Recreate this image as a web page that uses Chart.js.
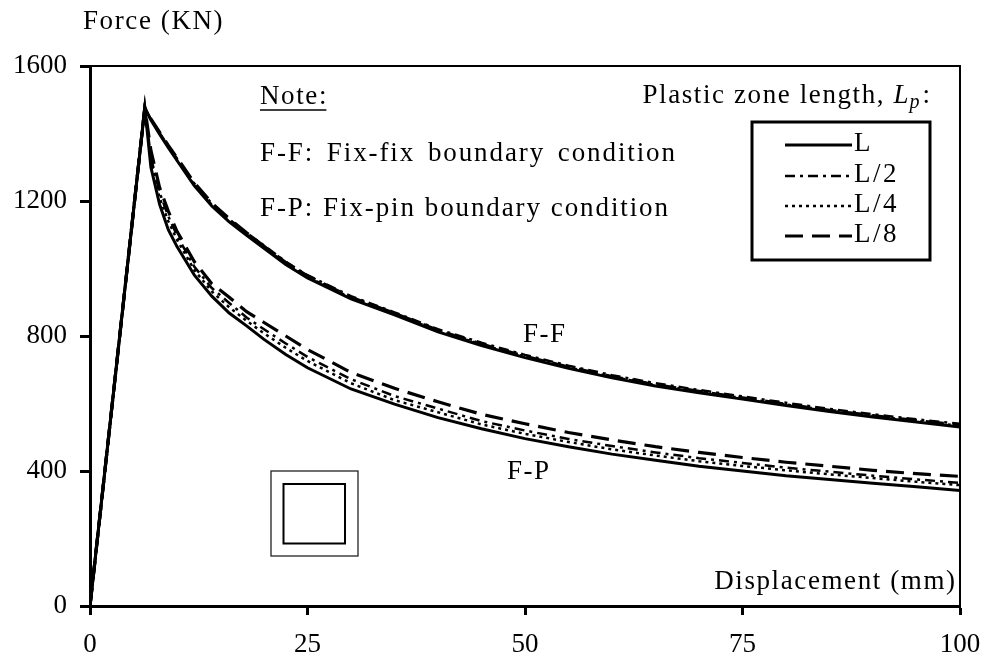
<!DOCTYPE html>
<html><head><meta charset="utf-8">
<script src="https://cdn.jsdelivr.net/npm/chart.js@4/dist/chart.umd.min.js"></script>
<style>html,body{margin:0;padding:0;background:#fff}#wrap{width:985px;height:666px}</style>
</head><body><div id="wrap"><canvas id="c" width="985" height="666"></canvas></div>
<script>
// ---- data ----
const displacement = [0, 6.3, 7, 8, 9, 10, 12, 14, 16, 18, 20, 22.5, 25, 30, 35, 40, 45, 50, 55, 60, 65, 70, 75, 80, 85, 90, 95, 100];
const ffL  = [0,1476,1440,1398,1358,1320,1245,1185,1138,1098,1060,1012,972,910,863,812,772,736,704,676,652,632,613,594,576,560,545,530];
const ffL2 = [0,1476,1442,1402,1363,1326,1252,1192,1146,1106,1068,1020,980,918,870,820,780,744,712,684,660,640,621,602,584,568,553,540];
const ffL4 = [0,1476,1441,1400,1360,1322,1248,1188,1141,1101,1063,1015,975,913,866,815,775,739,707,679,655,635,616,597,579,563,548,534];
const ffL8 = [0,1476,1443,1404,1365,1328,1254,1194,1148,1106,1066,1018,978,915,867,817,776,740,708,680,656,636,617,598,580,564,549,536];
const fpL  = [0,1476,1300,1190,1115,1065,980,918,868,830,790,745,706,643,598,558,525,496,472,450,432,414,400,386,375,364,353,342];
const fpL2 = [0,1476,1330,1225,1155,1098,1005,942,898,855,820,778,738,672,622,585,548,520,495,474,455,438,424,410,398,386,375,365];
const fpL4 = [0,1476,1315,1210,1140,1085,995,932,885,845,808,765,726,660,610,574,538,510,486,464,446,429,415,402,390,379,368,358];
const fpL8 = [0,1476,1350,1240,1170,1110,1020,955,915,872,840,800,760,692,645,605,568,540,514,492,472,455,440,426,414,402,392,384];
const seriesLabels = ['L', 'L/2', 'L/4', 'L/8'];
const xTicks = [0, 25, 50, 75, 100];
const yTicks = [0, 400, 800, 1200, 1600];

const FONT = "'Liberation Serif', 'DejaVu Serif', serif";
const styles = [
  {borderDash: [], borderWidth: 3},
  {borderDash: [10, 5, 3, 5], borderWidth: 2.5},
  {borderDash: [3, 4], borderWidth: 2.5},
  {borderDash: [18, 9], borderWidth: 3.2}
];
function pts(ys){ return displacement.map((x,i)=>({x:x, y:ys[i]})); }
const groups = [[ffL, ffL2, ffL4, ffL8], [fpL, fpL2, fpL4, fpL8]];
const datasets = [];
groups.forEach((g, gi) => g.forEach((ys, i) => datasets.push({
  label: seriesLabels[i] + (gi === 0 ? ' F-F' : ' F-P'),
  data: pts(ys), showLine: true, pointRadius: 0, borderColor: '#000',
  borderDash: styles[i].borderDash, borderWidth: styles[i].borderWidth,
  tension: 0, fill: false
})));

// draw text char by char with letter spacing; optional target width stretches word gaps
function spacedWidth(ctx, text, ls) {
  let w = 0; for (const ch of text) w += ctx.measureText(ch).width + ls; return w - ls;
}
function drawSpaced(ctx, text, x, y, align, ls, target) {
  const base = spacedWidth(ctx, text, ls);
  const nSp = (text.match(/ /g) || []).length;
  const extra = (target && nSp) ? Math.max(0, (target - base) / nSp) : 0;
  const w = target ? Math.max(target, base) : base;
  let cx = align === 'right' ? x - w : align === 'center' ? x - w / 2 : x;
  const prev = ctx.textAlign; ctx.textAlign = 'left';
  for (const ch of text) {
    ctx.fillText(ch, cx, y);
    cx += ctx.measureText(ch).width + ls + (ch === ' ' ? extra : 0);
  }
  ctx.textAlign = prev;
  return w;
}

const textPlugin = {
  id: 'textPlugin',
  afterDraw(chart) {
    const ctx = chart.ctx, a = chart.chartArea;
    ctx.save();
    ctx.strokeStyle = '#000'; ctx.fillStyle = '#000';
    // thin top/right frame
    ctx.lineWidth = 2;
    ctx.beginPath(); ctx.moveTo(a.left, a.top); ctx.lineTo(a.right, a.top); ctx.lineTo(a.right, a.bottom); ctx.stroke();
    ctx.font = '27px ' + FONT; ctx.textBaseline = 'middle';
    const LS = 1.6;
    // axis titles
    drawSpaced(ctx, 'Force (KN)', 83, 22, 'left', LS);
    drawSpaced(ctx, 'Displacement (mm)', 955, 582, 'right', LS);
    // notes
    const nw = drawSpaced(ctx, 'Note:', 260, 97, 'left', LS);
    ctx.lineWidth = 1.5; ctx.beginPath(); ctx.moveTo(260, 110); ctx.lineTo(260 + nw, 110); ctx.stroke();
    drawSpaced(ctx, 'F-F: Fix-fix boundary condition', 260, 154, 'left', 1.9, 415);
    drawSpaced(ctx, 'F-P: Fix-pin boundary condition', 260, 209, 'left', 1.9, 408);
    drawSpaced(ctx, 'F-F', 544, 335, 'center', LS);
    drawSpaced(ctx, 'F-P', 528, 472, 'center', LS);
    // legend title with italic L_p
    ctx.font = '27px ' + FONT;
    const t1 = 'Plastic zone length, ';
    const w1 = spacedWidth(ctx, t1, LS) + LS;
    ctx.font = 'italic 27px ' + FONT; const wL = ctx.measureText('L').width + 1;
    ctx.font = 'italic 20px ' + FONT; const wp = ctx.measureText('p').width + 3;
    ctx.font = '27px ' + FONT; const wc = ctx.measureText(':').width;
    let x0 = 930 - (w1 + wL + wp + wc);
    drawSpaced(ctx, t1, x0, 96, 'left', LS); x0 += w1;
    ctx.font = 'italic 27px ' + FONT; ctx.fillText('L', x0, 96); x0 += wL;
    ctx.font = 'italic 20px ' + FONT; ctx.fillText('p', x0, 103); x0 += wp;
    ctx.font = '27px ' + FONT; ctx.fillText(':', x0, 96);
    // legend box
    ctx.lineWidth = 3; ctx.strokeRect(752, 122, 178, 138);
    const rows = [145, 176, 206, 236];
    for (let i = 0; i < 4; i++) {
      const ds = chart.data.datasets[i];
      ctx.lineWidth = ds.borderWidth; ctx.setLineDash(ds.borderDash);
      ctx.beginPath(); ctx.moveTo(785, rows[i]); ctx.lineTo(852, rows[i]); ctx.stroke();
      ctx.setLineDash([]);
      drawSpaced(ctx, seriesLabels[i], 854, rows[i] - 1, 'left', 2.5);
    }
    // cross-section icon
    ctx.lineWidth = 1.3; ctx.strokeStyle = '#222';
    ctx.strokeRect(271, 471, 87, 85);
    ctx.lineWidth = 2; ctx.strokeStyle = '#000';
    ctx.strokeRect(283.5, 484, 61.5, 59.5);
    ctx.restore();
  }
};

new Chart(document.getElementById('c'), {
  type: 'scatter',
  data: { datasets },
  options: {
    responsive: false, animation: false, devicePixelRatio: 1,
    layout: { padding: { top: 66, right: 25, left: 0, bottom: 0 } },
    plugins: { legend: { display: false }, tooltip: { enabled: false } },
    scales: {
      x: {
        type: 'linear', min: 0, max: 100,
        afterBuildTicks: s => { s.ticks = xTicks.map(v => ({ value: v })); },
        afterFit: s => { s.height = 60; s.paddingLeft = 0; s.paddingRight = 0; },
        grid: { drawOnChartArea: false, drawTicks: true, tickLength: 9, tickWidth: 3, tickColor: '#000' },
        border: { display: true, color: '#000', width: 3 },
        ticks: { color: '#000', font: { family: FONT, size: 27 }, padding: 14, maxRotation: 0, callback: v => String(v) }
      },
      y: {
        type: 'linear', min: 0, max: 1600,
        afterBuildTicks: s => { s.ticks = yTicks.map(v => ({ value: v })); },
        afterFit: s => { s.width = 90; s.paddingTop = 0; s.paddingBottom = 0; },
        grid: { drawOnChartArea: false, drawTicks: true, tickLength: 10, tickWidth: 3, tickColor: '#000' },
        border: { display: true, color: '#000', width: 3 },
        ticks: { color: '#000', font: { family: FONT, size: 27 }, padding: 13, callback: v => String(v) }
      }
    }
  },
  plugins: [textPlugin]
});
</script>
</body></html>
